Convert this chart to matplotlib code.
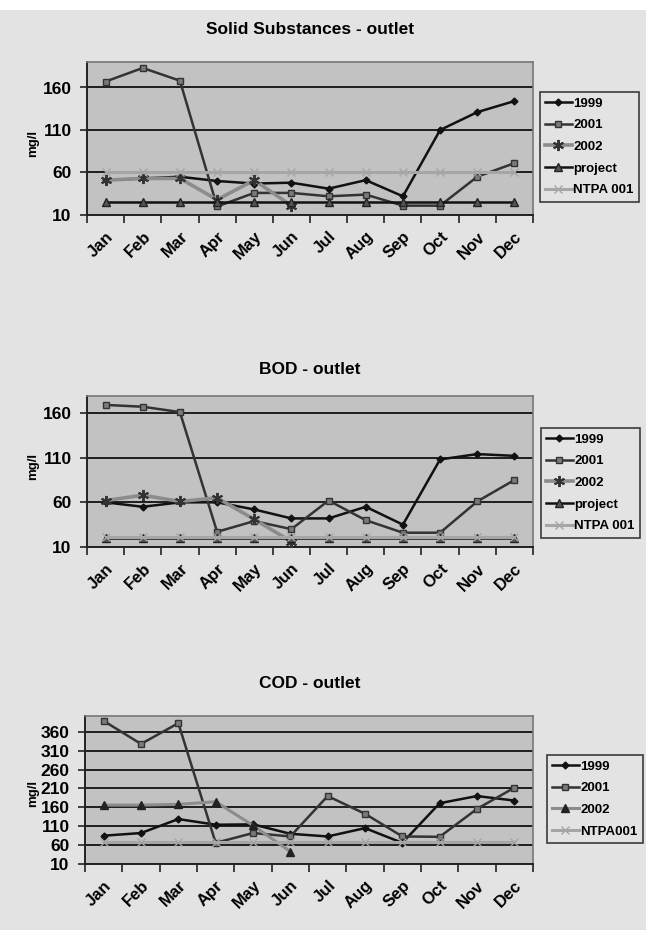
import numpy as np
import matplotlib
matplotlib.use("Agg")
import matplotlib.pyplot as plt
from matplotlib.patches import Rectangle

plt.rcParams['font.family'] = ['Liberation Sans', 'DejaVu Sans']
plt.rcParams['font.weight'] = 'bold'

months = ["Jan", "Feb", "Mar", "Apr", "May", "Jun",
          "Jul", "Aug", "Sep", "Oct", "Nov", "Dec"]

# Solid Substances - outlet (mg/l)
ss_1999 = [51, 53, 55, 50, 47, 48, 41, 51, 32, 110, 131, 144]
ss_2001 = [167, 183, 168, 20, 36, 36, 32, 34, 21, 21, 55, 71]
ss_2002 = [51, 53, 53, 28, 51, 21]
ss_project = [25] * 12
ss_ntpa = [60] * 12

# BOD - outlet (mg/l)
bod_1999 = [60, 55, 60, 60, 52, 42, 42, 55, 35, 108, 114, 112]
bod_2001 = [169, 167, 161, 27, 39, 30, 62, 40, 26, 26, 61, 85]
bod_2002 = [62, 68, 61, 65, 41, 16]
bod_project = [20] * 12
bod_ntpa = [21] * 12

# COD - outlet (mg/l)
cod_1999 = [85, 92, 129, 114, 115, 90, 83, 105, 66, 171, 190, 178]
cod_2001 = [389, 328, 383, 66, 92, 83, 190, 143, 83, 82, 156, 212]
cod_2002 = [166, 166, 168, 175, 112, 43]
cod_ntpa = [68] * 12

FIG_BG = "#e3e3e3"
AX_BG = "#c2c2c2"

fig = plt.figure(figsize=(6.46, 9.30), dpi=100, facecolor=FIG_BG)
fig.patches.append(Rectangle((0, 1 - 10 / 930), 1, 10 / 930, transform=fig.transFigure,
                             facecolor="white", edgecolor="none", zorder=-1))

W, H = 646, 930


def px_axes(left, top, right, bottom):
    return fig.add_axes([left / W, 1 - bottom / H, (right - left) / W, (bottom - top) / H])


styles = {
    "1999": dict(color="#111111", lw=1.8, marker="D", ms=3.5, mfc="#111111", mec="#111111"),
    "2001": dict(color="#333333", lw=1.8, marker="s", ms=5, mfc="#7a7a7a", mec="#333333"),
    "2002": dict(color="#8c8c8c", lw=2.6, marker=(6, 2, 0), ms=8, mfc="#333333", mec="#333333", mew=1.4),
    "2002t": dict(color="#8c8c8c", lw=2.2, marker="^", ms=6, mfc="#222222", mec="#222222"),
    "project": dict(color="#111111", lw=1.8, marker="^", ms=5.5, mfc="#555555", mec="#222222"),
    "ntpa": dict(color="#a6a6a6", lw=2.2, marker="x", ms=6, mfc="#a6a6a6", mec="#a6a6a6"),
}


def draw(ax, series, yticks, ymax, title, title_y, ylabel_y, legend_box):
    ax.set_facecolor(AX_BG)
    for label, values, key in series:
        ax.plot(np.arange(len(values)), values, label=label, **styles[key], zorder=3)
    ax.set_xlim(-0.5, 11.5)
    ax.set_ylim(yticks[0], ymax)
    ax.set_yticks(yticks)
    ax.set_yticklabels([str(v) for v in yticks], fontsize=12.5, fontweight="bold")
    ax.yaxis.grid(True, color="#111111", lw=1.3, zorder=1)
    ax.set_xticks(np.arange(-0.5, 12, 1))
    ax.set_xticklabels([])
    ax.set_xticks(np.arange(12), minor=True)
    ax.set_xticklabels(months, minor=True, rotation=45, ha="right",
                       rotation_mode="anchor", fontsize=12, fontweight="bold")
    ax.tick_params(axis="x", which="major", length=6, width=1.2, color="#222222")
    ax.tick_params(axis="x", which="minor", length=0, pad=10)
    ax.tick_params(axis="y", length=5, width=1.2, color="#222222", pad=6)
    for side in ["top", "right"]:
        ax.spines[side].set_color("#777777")
        ax.spines[side].set_linewidth(1.2)
    for side in ["left", "bottom"]:
        ax.spines[side].set_color("#222222")
        ax.spines[side].set_linewidth(1.4)
    fig.text(33 / W, 1 - ylabel_y / H, "mg/l", rotation=90, ha="center", va="center",
             fontsize=9.5, fontweight="bold")
    fig.text(310 / W, 1 - title_y / H, title, ha="center", va="center",
             fontsize=12.5, fontweight="bold")
    leg = ax.legend(loc="upper left", bbox_to_anchor=(legend_box[0] / W, 1 - legend_box[1] / H),
                    bbox_transform=fig.transFigure, borderaxespad=0, frameon=True, fancybox=False,
                    prop={"weight": "bold", "size": 9.5}, handlelength=2.0,
                    handletextpad=0.12, labelspacing=0.72, borderpad=0.4)
    leg.get_frame().set_facecolor(FIG_BG)
    leg.get_frame().set_edgecolor("#111111")
    leg.get_frame().set_linewidth(1.2)


ax1 = px_axes(87, 62, 533, 215)
draw(ax1, [("1999", ss_1999, "1999"), ("2001", ss_2001, "2001"), ("2002", ss_2002, "2002"),
           ("project", ss_project, "project"), ("NTPA 001", ss_ntpa, "ntpa")],
     [10, 60, 110, 160], 190, "Solid Substances - outlet", 30, 143, (540, 92))

ax2 = px_axes(87, 396, 533, 547)
draw(ax2, [("1999", bod_1999, "1999"), ("2001", bod_2001, "2001"), ("2002", bod_2002, "2002"),
           ("project", bod_project, "project"), ("NTPA 001", bod_ntpa, "ntpa")],
     [10, 60, 110, 160], 179, "BOD - outlet", 370, 466, (541, 428))

ax3 = px_axes(85, 716, 533, 864)
draw(ax3, [("1999", cod_1999, "1999"), ("2001", cod_2001, "2001"), ("2002", cod_2002, "2002t"),
           ("NTPA001", cod_ntpa, "ntpa")],
     [10, 60, 110, 160, 210, 260, 310, 360], 402, "COD - outlet", 683, 793, (547, 755))

fig.savefig("out.png", dpi=100, facecolor=FIG_BG)
